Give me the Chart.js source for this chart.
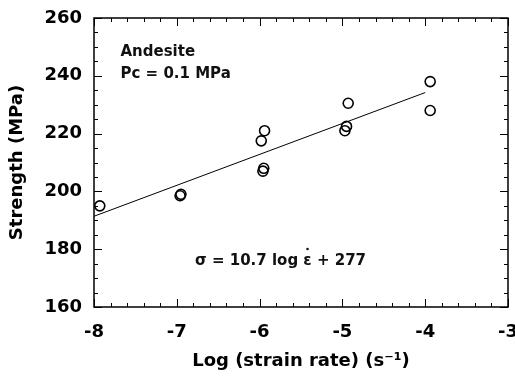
<!DOCTYPE html>
<html>
<head>
<meta charset="utf-8">
<script src="https://cdn.jsdelivr.net/npm/chart.js@4"></script>
<style>
  html, body { margin: 0; padding: 0; background: #fff; overflow: hidden; }
  #wrap { width: 515px; height: 376px; }
</style>
</head>
<body>
<div id="wrap"><canvas id="strength-chart"></canvas></div>
<script>
// andesite strength vs strain rate

const strainRate = [-7.93, -6.96, -6.95, -5.98, -5.94, -5.96, -5.95, -4.97, -4.95, -4.93, -3.94, -3.94];
const strength   = [195, 198.5, 199, 217.5, 221, 207, 208, 221, 222.5, 230.5, 238, 228];

const fitX = [-8, -4];
const fitY = [191.4, 234.2];

const xTicks = [-8, -7, -6, -5, -4, -3];
const yTicks = [160, 180, 200, 220, 240, 260];

const FONT = 'DejaVu Sans';

// box + inward ticks + text notes
const framePlugin = {
    id: 'frame',
    afterDatasetsDraw(chart) {
        const ctx = chart.ctx;
        const a = chart.chartArea;
        const xs = chart.scales.x;
        const ys = chart.scales.y;
        ctx.save();
        ctx.strokeStyle = '#000';
        ctx.lineWidth = 1.5;
        ctx.strokeRect(a.left, a.top, a.right - a.left, a.bottom - a.top);
        ctx.lineWidth = 1;
        ctx.beginPath();
        for (let i = 0; i <= 25; i++) {
            const v = xs.min + i * 0.2;
            const px = Math.round(xs.getPixelForValue(v)) + 0.5;
            const len = i % 5 === 0 ? 8 : 4;
            ctx.moveTo(px, a.bottom); ctx.lineTo(px, a.bottom - len);
            ctx.moveTo(px, a.top); ctx.lineTo(px, a.top + len);
        }
        for (let i = 0; i <= 20; i++) {
            const v = ys.min + i * 5;
            const py = Math.round(ys.getPixelForValue(v)) + 0.5;
            const len = i % 4 === 0 ? 8 : 4;
            ctx.moveTo(a.left, py); ctx.lineTo(a.left + len, py);
            ctx.moveTo(a.right, py); ctx.lineTo(a.right - len, py);
        }
        ctx.stroke();

        ctx.fillStyle = '#111';
        ctx.textBaseline = 'middle';
        ctx.textAlign = 'left';
        ctx.font = 'bold 15px "DejaVu Sans"';
        const nx = xs.getPixelForValue(-7.68);
        ctx.fillText('Andesite', nx, ys.getPixelForValue(248.2));
        ctx.fillText('Pc = 0.1 MPa', nx, ys.getPixelForValue(240.6));

        // equation with a dot over epsilon
        const ex = xs.getPixelForValue(-6.78);
        const ey = ys.getPixelForValue(175.9);
        const pre = '\u03C3 = 10.7 log ';
        ctx.fillText(pre + '\u03B5 + 277', ex, ey);
        const dx = ex + ctx.measureText(pre).width + ctx.measureText('\u03B5').width / 2;
        ctx.beginPath();
        ctx.arc(dx, ey - 12, 1.3, 0, Math.PI * 2);
        ctx.fill();
        ctx.restore();
    }
};

const scatterConfig = {
    type: 'scatter',
    data: {
        datasets: [{
            label: 'Strength',
            data: strainRate.map((x, i) => ({ x: x, y: strength[i] })),
            pointRadius: 5,
            pointBorderWidth: 1.6,
            pointBackgroundColor: 'rgba(255,255,255,0)',
            pointBorderColor: '#000'
        }, {
            type: 'line',
            label: 'Fit',
            data: fitX.map((x, i) => ({ x: x, y: fitY[i] })),
            borderColor: '#000',
            borderWidth: 1,
            pointRadius: 0,
            fill: false
        }]
    },
    options: {
        responsive: true,
        maintainAspectRatio: false,
        animation: false,
        layout: { padding: { top: 18, right: 7, left: 0, bottom: 0 } },
        plugins: {
            legend: { display: false },
            tooltip: { enabled: false }
        },
        scales: {
            x: {
                type: 'linear',
                min: -8,
                max: -3,
                afterBuildTicks: (s) => { s.ticks = xTicks.map(v => ({ value: v })); },
                afterFit: (s) => { s.height = 69; s.paddingLeft = 0; s.paddingRight = 0; },
                grid: { display: false, drawTicks: false },
                border: { display: false },
                ticks: {
                    color: '#000',
                    padding: 15,
                    maxRotation: 0,
                    font: { family: FONT, size: 18, weight: 'bold' }
                },
                title: {
                    display: true,
                    text: 'Log (strain rate) (s\u207B\u00B9)',
                    color: '#000',
                    padding: { top: 0, bottom: 4 },
                    font: { family: FONT, size: 18, weight: 'bold' }
                }
            },
            y: {
                min: 160,
                max: 260,
                afterBuildTicks: (s) => { s.ticks = yTicks.map(v => ({ value: v })); },
                afterFit: (s) => { s.width = 94; s.paddingTop = 0; s.paddingBottom = 0; },
                grid: { display: false, drawTicks: false },
                border: { display: false },
                ticks: {
                    color: '#000',
                    padding: 12,
                    font: { family: FONT, size: 18, weight: 'bold' }
                },
                title: {
                    display: true,
                    text: 'Strength (MPa)',
                    color: '#000',
                    padding: { top: 7, bottom: 0 },
                    font: { family: FONT, size: 18, weight: 'bold' }
                }
            }
        }
    },
    plugins: [framePlugin]
};

var strengthChart = new Chart(
    document.getElementById('strength-chart'),
    scatterConfig
);
</script>
</body>
</html>
